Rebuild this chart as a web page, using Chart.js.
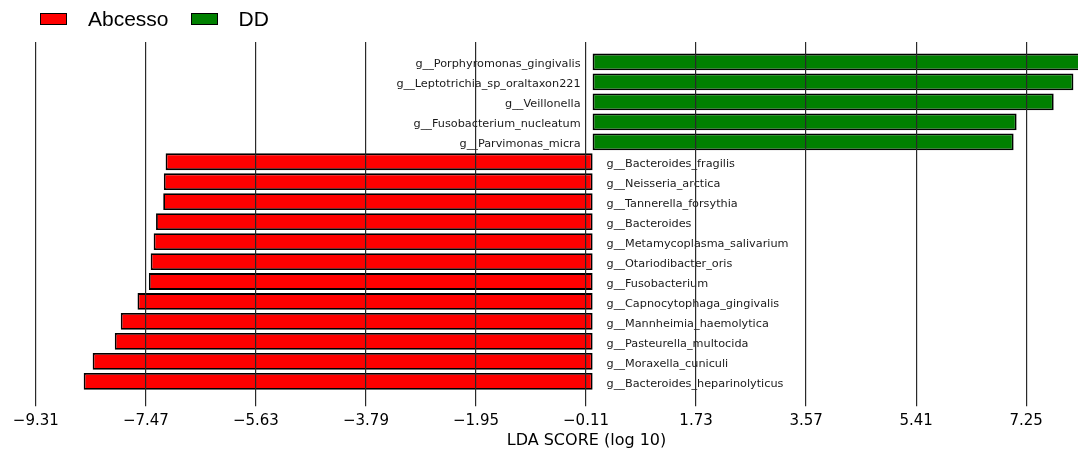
<!DOCTYPE html>
<html>
<head>
<meta charset="utf-8">
<title>LDA score</title>
<script src="https://cdn.jsdelivr.net/npm/chart.js@4.4.1/dist/chart.umd.min.js"></script>
<style>
    body { margin: 0; overflow: hidden; background: #fff; }
    #wrap { position: relative; width: 1163px; height: 453px; }
    #legend { position: absolute; left: 40px; top: 7px; display: flex; font-family: "Liberation Sans", Arial, sans-serif; font-size: 21px; color: #000; }
    .item { display: flex; align-items: center; height: 24px; margin-right: 22px; }
    .box { box-sizing: border-box; width: 27px; height: 12px; border: 1.5px solid #000; margin-right: 21px; }
</style>
</head>
<body>
<div id="wrap">
    <canvas id="ldaChart" width="1163" height="453"></canvas>
    <div id="legend"></div>
</div>
<script>
// LEfSe result, top to bottom
const features = [
    'g__Porphyromonas_gingivalis',
    'g__Leptotrichia_sp_oraltaxon221',
    'g__Veillonella',
    'g__Fusobacterium_nucleatum',
    'g__Parvimonas_micra',
    'g__Bacteroides_fragilis',
    'g__Neisseria_arctica',
    'g__Tannerella_forsythia',
    'g__Bacteroides',
    'g__Metamycoplasma_salivarium',
    'g__Otariodibacter_oris',
    'g__Fusobacterium',
    'g__Capnocytophaga_gingivalis',
    'g__Mannheimia_haemolytica',
    'g__Pasteurella_multocida',
    'g__Moraxella_cuniculi',
    'g__Bacteroides_heparinolyticus'
];
const ldaScores = [8.25, 8.04, 7.71, 7.09, 7.04,
    -7.14, -7.17, -7.18, -7.30, -7.34, -7.39, -7.42, -7.61, -7.89, -7.99, -8.36, -8.51];
const groupNames = ['Abcesso', 'DD'];
const groupColors = ['#ff0000', '#008000'];
const tickValues = [-9.31, -7.47, -5.63, -3.79, -1.95, -0.11, 1.73, 3.57, 5.41, 7.25];

function pointsFor(group) {
    const out = [];
    ldaScores.forEach((v, i) => {
        const g = v < 0 ? 'Abcesso' : 'DD';
        if (g === group) out.push({ x: v, y: i });
    });
    return out;
}

// Names next to the zero line
const featureLabels = {
    id: 'featureLabels',
    afterDatasetsDraw(chart) {
        const { ctx, scales: { x, y } } = chart;
        const x0 = x.getPixelForValue(0);
        ctx.save();
        ctx.font = '11.25px "DejaVu Sans"';
        ctx.fillStyle = '#1a1a1a';
        ctx.textBaseline = 'alphabetic';
        ldaScores.forEach((v, i) => {
            const py = y.getPixelForValue(i) + 5.5;
            if (v > 0) {
                ctx.textAlign = 'right';
                ctx.fillText(features[i], x0 - 12, py);
            } else {
                ctx.textAlign = 'left';
                ctx.fillText(features[i], x0 + 14, py);
            }
        });
        ctx.restore();
    }
};

function buildLegend() {
    const el = document.getElementById('legend');
    groupNames.forEach((name, i) => {
        const item = document.createElement('div');
        item.className = 'item';
        const box = document.createElement('span');
        box.className = 'box';
        box.style.background = groupColors[i];
        const txt = document.createElement('span');
        txt.textContent = name;
        item.appendChild(box);
        item.appendChild(txt);
        el.appendChild(item);
    });
}

const ctx = document.getElementById('ldaChart');
new Chart(ctx, {
    type: 'bar',
    data: {
        datasets: groupNames.map((name, i) => ({
            label: name,
            data: pointsFor(name),
            backgroundColor: groupColors[i],
            borderColor: '#000',
            borderWidth: 1.8,
            borderSkipped: false,
            barPercentage: 0.84,
            categoryPercentage: 1,
            grouped: false
        }))
    },
    options: {
        indexAxis: 'y',
        responsive: false,
        animation: false,
        layout: { padding: { left: 10, top: 42, right: 0, bottom: 0 } },
        plugins: {
            legend: { display: false },
            tooltip: { enabled: false }
        },
        scales: {
            x: {
                type: 'linear',
                min: -9.742,
                max: 9.538,
                afterBuildTicks: scale => {
                    scale.ticks = tickValues.map(v => ({ value: v }));
                },
                border: { display: false },
                grid: {
                    color: '#2a2a2a',
                    lineWidth: 1.2,
                    tickLength: 5,
                    z: 1
                },
                ticks: {
                    autoSkip: false,
                    maxRotation: 0,
                    padding: 5.5,
                    color: '#000',
                    font: { family: 'DejaVu Sans', size: 15 },
                    callback: v => v.toFixed(2).replace('-', '\u2212')
                },
                title: {
                    display: true,
                    text: 'LDA SCORE (log 10)',
                    color: '#000',
                    font: { family: 'DejaVu Sans', size: 16, lineHeight: 0.64 },
                    padding: { top: 0, bottom: 7.5 }
                }
            },
            y: {
                type: 'linear',
                min: -1,
                max: 17,
                reverse: true,
                offset: false,
                display: false
            }
        }
    },
    plugins: [featureLabels]
});

buildLegend();
</script>
</body>
</html>
